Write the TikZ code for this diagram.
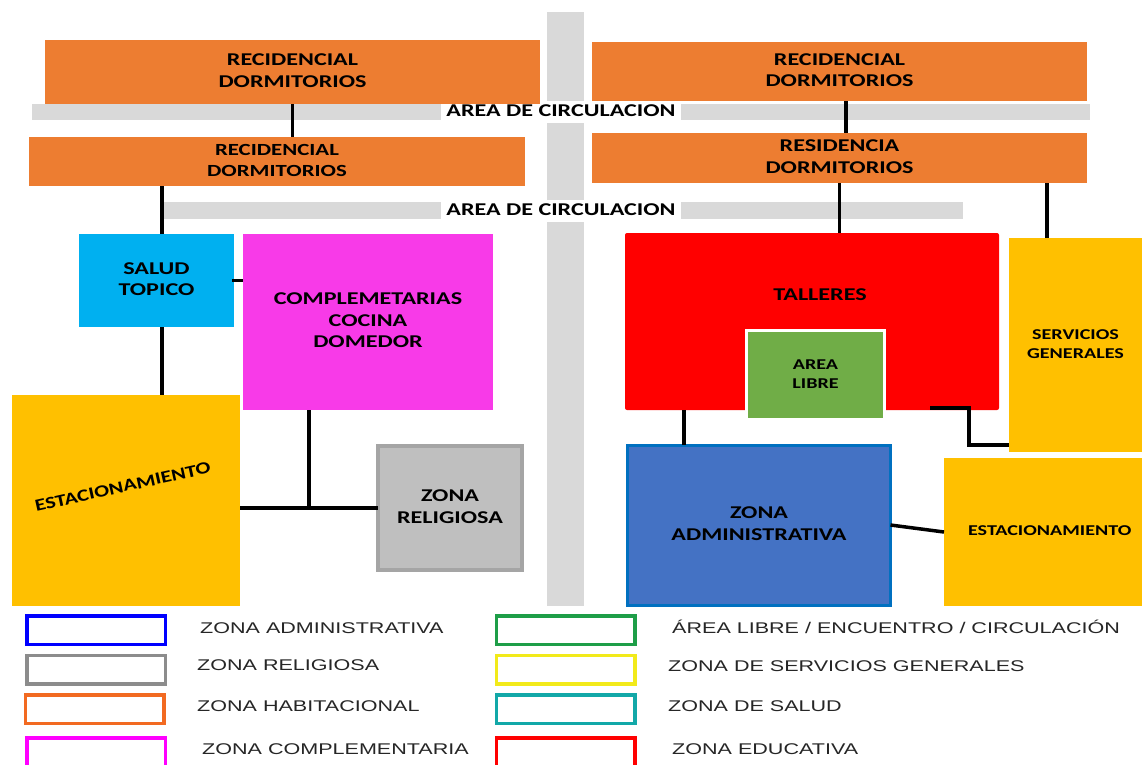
\documentclass[tikz,border=0pt]{standalone}
\usepackage{graphicx}
\usepackage{fontspec}
\setmainfont{Carlito}
\newfontfamily\lgfont{Liberation Sans}
\definecolor{orng}{HTML}{ED7D31}
\definecolor{cbar}{HTML}{D9D9D9}
\definecolor{cyanb}{HTML}{00B0F0}
\definecolor{magb}{HTML}{F83AE8}
\definecolor{yelb}{HTML}{FFC000}
\definecolor{religf}{HTML}{BFBFBF}
\definecolor{religb}{HTML}{A5A5A5}
\definecolor{redb}{HTML}{FF0000}
\definecolor{greenb}{HTML}{70AD47}
\definecolor{admf}{HTML}{4472C4}
\definecolor{admb}{HTML}{0070C0}
\definecolor{lgblue}{HTML}{0000FF}
\definecolor{lggray}{HTML}{8C8C8C}
\definecolor{lgorange}{HTML}{F26A21}
\definecolor{lgmag}{HTML}{FF00FF}
\definecolor{lggreen}{HTML}{1E9E48}
\definecolor{lgyellow}{HTML}{F2EA1A}
\definecolor{lgteal}{HTML}{12A8A8}
\definecolor{lgred}{HTML}{FF0000}
\definecolor{lgtext}{HTML}{262626}
\newcommand\zt[2][1.34]{\scalebox{#1}[1]{\begin{tabular}{@{}c@{}}#2\end{tabular}}}
\newcommand\lz[1]{\scalebox{1.39}[1]{#1}}
\newcommand\fbig{\fontsize{18}{21.5}\selectfont\bfseries}
\newcommand\fmid{\fontsize{17}{21}\selectfont\bfseries}
\newcommand\fsmall{\fontsize{15}{19}\selectfont\bfseries}
\newcommand\flg{\lgfont\fontsize{15.5}{18}\selectfont}
\begin{document}
\begin{tikzpicture}[x=1pt,y=-1pt,
  zone/.style={inner sep=0pt, outer sep=0pt, align=center, text=black, font=\fbig},
  circlbl/.style={fill=white, inner xsep=5pt, inner ysep=0pt, minimum height=19pt, text=black, font=\fbig},
  conn/.style={line width=3.5pt, black},
  lgbox/.style={draw, line width=3.5pt, fill=white, minimum width=138.5pt, minimum height=28.5pt, inner sep=0pt},
  lgtxt/.style={anchor=west, inner sep=0pt, font=\flg, text=lgtext}]
\useasboundingbox (0,0) rectangle (1142,764);
\fill[white] (0,0) rectangle (1142,764);
% circulation
\fill[cbar] (547,12) rectangle (584,606);
\fill[cbar] (32,104) rectangle (1090,120);
\fill[cbar] (163,202) rectangle (963,219);
\node[circlbl] (c1) at (561,112) {\zt{AREA DE CIRCULACION}};
\node[circlbl] (c2) at (561,211) {\zt{AREA DE CIRCULACION}};
% residential
\node[zone, fill=orng, minimum width=495pt, minimum height=64pt] (rl1) at (292.5,72) {\zt{RECIDENCIAL\\DORMITORIOS}};
\node[zone, fill=orng, minimum width=495pt, minimum height=59pt] (rr1) at (839.5,71.5) {\zt{RECIDENCIAL\\DORMITORIOS}};
\node[zone, fill=orng, minimum width=496pt, minimum height=49pt, font=\fmid] (rl2) at (277,161.5) {\zt{RECIDENCIAL\\DORMITORIOS}};
\node[zone, fill=orng, minimum width=495pt, minimum height=50pt] (rr2) at (839.5,158) {\zt{RESIDENCIA\\DORMITORIOS}};
% left zones
\node[zone, fill=cyanb, minimum width=155pt, minimum height=93pt] (salud) at (156.5,280.5) {\zt{SALUD\\TOPICO}};
\node[zone, fill=magb, minimum width=250pt, minimum height=176pt] (comp) at (368,322) {\zt{COMPLEMETARIAS\\COCINA\\DOMEDOR}};
\node[zone, fill=yelb, minimum width=228pt, minimum height=211pt] (estL) at (126,500.5) {};
\node[zone, rotate=12.5, font=\fmid] (estLt) at (123,488) {\zt[1.3]{ESTACIONAMIENTO}};
\node[zone, fill=religf, draw=religb, line width=4pt, minimum width=144pt, minimum height=124pt] (relig) at (450,508) {\zt{ZONA\\RELIGIOSA}};
% right zones
\node[zone, fill=redb, rounded corners=2pt, minimum width=374pt, minimum height=177pt] (tall) at (812,321.5) {};
\node[zone] (talltxt) at (820,296) {\zt{TALLERES}};
\node[zone, fill=greenb, draw=white, line width=3pt, minimum width=138pt, minimum height=89pt, font=\fsmall] (libre) at (815.5,375) {\zt{AREA\\LIBRE}};
\node[zone, fill=admf, draw=admb, line width=3pt, minimum width=263pt, minimum height=160pt] (adm) at (759,525) {\zt{ZONA\\ADMINISTRATIVA}};
\node[zone, fill=yelb, minimum width=133pt, minimum height=214pt, font=\fsmall] (serv) at (1075.5,345) {\zt{SERVICIOS\\GENERALES}};
\node[zone, fill=yelb, minimum width=198pt, minimum height=148pt, font=\fsmall] (estR) at (1043,532) {\zt{\hspace*{10pt}ESTACIONAMIENTO}};
% connectors
\draw[conn] (rl1.south) -- (rl1.south |- rl2.north);
\draw[conn] ([xshift=6.5pt]rr1.south) -- ([xshift=6.5pt]rr1.south |- rr2.north);
\draw[conn] ([xshift=5.5pt]salud.north) -- ([xshift=5.5pt]salud.north |- rl2.south);
\draw[conn] (rr2.south) -- (rr2.south |- tall.north);
\draw[conn] ([xshift=-28.5pt]serv.north) -- ([xshift=-28.5pt]serv.north |- rr2.south);
\draw[conn] ([xshift=-2pt]salud.east) -- (salud.east -| comp.west);
\draw[conn] ([xshift=5.5pt]salud.south) -- ([xshift=5.5pt]salud.south |- estL.north);
\draw[conn] ([xshift=-59pt]comp.south) -- ([xshift=-59pt]comp.south |- relig.west);
\draw[conn] (estL.east |- relig.west) -- (relig.west);
\draw[conn] ([xshift=-128pt]tall.south) -- ([xshift=-128pt]tall.south |- adm.north);
\draw[conn] ([xshift=118pt,yshift=2pt]tall.south) -- ++(39,0) |- (serv.west |- 0,445);
\draw[conn] (adm.east) -- (estR.west);
% legend boxes
\node[lgbox, draw=lgblue] (lb1) at (96,630) {};
\node[lgbox, draw=lggray] (lb2) at (96,669.5) {};
\node[lgbox, draw=lgorange] (lb3) at (94.5,709) {};
\node[lgbox, draw=lgmag] (lb4) at (96,752) {};
\node[lgbox, draw=lggreen] (rb1) at (565.5,630) {};
\node[lgbox, draw=lgyellow] (rb2) at (565.5,669.5) {};
\node[lgbox, draw=lgteal] (rb3) at (565.5,709) {};
\node[lgbox, draw=lgred] (rb4) at (565.5,752) {};
% legend labels
\node[lgtxt] (lt1) at (200,628) {\lz{ZONA ADMINISTRATIVA}};
\node[lgtxt] (lt2) at (197,665) {\lz{ZONA RELIGIOSA}};
\node[lgtxt] (lt3) at (197,706) {\lz{ZONA HABITACIONAL}};
\node[lgtxt] (lt4) at (202,749) {\lz{ZONA COMPLEMENTARIA}};
\node[lgtxt] (rt1) at (672,627) {\lz{ÁREA LIBRE / ENCUENTRO / CIRCULACIÓN}};
\node[lgtxt] (rt2) at (668,666) {\lz{ZONA DE SERVICIOS GENERALES}};
\node[lgtxt] (rt3) at (668,706) {\lz{ZONA DE SALUD}};
\node[lgtxt] (rt4) at (672,749) {\lz{ZONA EDUCATIVA}};
\end{tikzpicture}
\end{document}
